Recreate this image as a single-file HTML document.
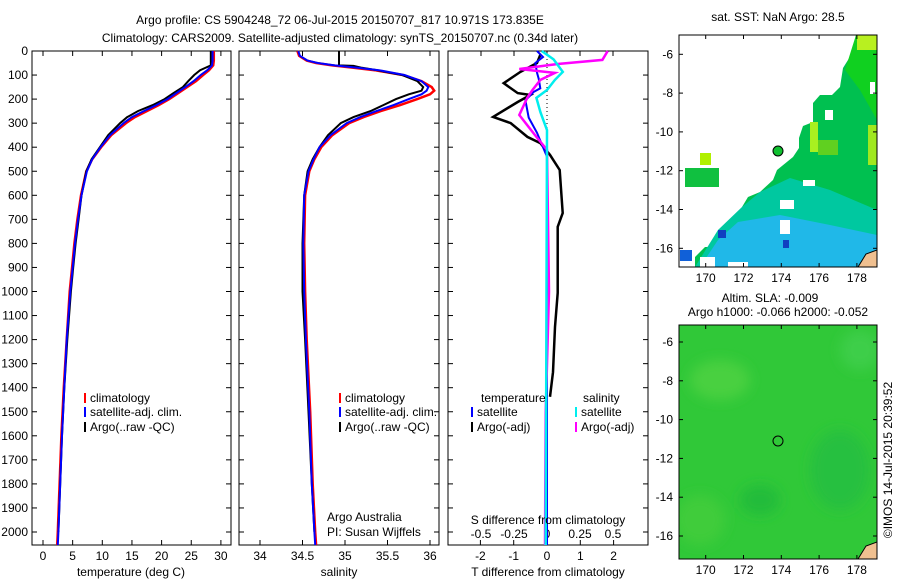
<!DOCTYPE html>
<html><head><meta charset="utf-8"><style>
body{margin:0;background:#fff}
svg text{font-family:"Liberation Sans",sans-serif;font-size:12px;fill:#000}
</style></head><body>
<svg id="c" width="900" height="580" viewBox="0 0 900 580" xmlns="http://www.w3.org/2000/svg">
<defs>
<filter id="bl"><feGaussianBlur stdDeviation="6"/></filter>
<clipPath id="m1c"><rect x="679" y="35" width="198" height="232"/></clipPath>
<clipPath id="m2c"><rect x="679" y="325" width="198" height="234"/></clipPath>
</defs>
<text x="340" y="24" text-anchor="middle" font-size="13">Argo profile: CS 5904248_72 06-Jul-2015 20150707_817 10.971S 173.835E</text>
<text x="340" y="42" text-anchor="middle" font-size="13">Climatology: CARS2009. Satellite-adjusted climatology: synTS_20150707.nc (0.34d later)</text>
<g id="g1"></g>
<g id="g2"></g>
<g id="g3"></g>
<g id="map1">
<text x="778" y="21" text-anchor="middle">sat. SST: NaN Argo: 28.5</text>
<g clip-path="url(#m1c)">
<polygon fill="#00c050" points="856,35 877,35 877,267 695,267 695,257 705,247 718,247 718,230 738,220 742,207 748,197 760,192 773,180 777,170 793,157 799,148 799,138 803,126 813,122 813,103 820,95 832,95 840,87 843,68 853,52"/>
<polygon fill="#10d020" points="856,35 877,35 877,120 860,90 845,70"/>
<polygon fill="#00c8a0" points="742,207 760,192 790,178 830,190 877,210 877,267 695,267 718,230"/>
<polygon fill="#20b8e8" points="738,222 780,215 830,225 877,235 877,267 700,267 718,240"/>
<rect x="857" y="35" width="20" height="15" fill="#b8f020"/>
<rect x="868" y="125" width="9" height="40" fill="#a0e820"/>
<rect x="810" y="122" width="8" height="30" fill="#a8f020"/>
<rect x="818" y="140" width="20" height="15" fill="#60d020"/>
<rect x="685" y="168" width="34" height="19" fill="#10c040"/>
<rect x="700" y="153" width="11" height="12" fill="#b0f000"/>
<rect x="680" y="250" width="12" height="11" fill="#1060d8"/>
<rect x="718" y="230" width="8" height="8" fill="#1040c0"/>
<rect x="783" y="240" width="6" height="8" fill="#1040c0"/>
<rect x="780" y="220" width="10" height="14" fill="#fff"/>
<rect x="780" y="200" width="14" height="9" fill="#fff"/>
<rect x="803" y="180" width="12" height="6" fill="#fff"/>
<rect x="825" y="110" width="8" height="10" fill="#fff"/>
<rect x="870" y="82" width="5" height="12" fill="#fff"/>
<rect x="700" y="257" width="15" height="10" fill="#fff"/>
<rect x="728" y="262" width="20" height="5" fill="#fff"/>
<path d="M858,267 L866,254 L877,250 L877,267 Z" fill="#f0c090" stroke="#000" stroke-width="1"/>
</g>
<rect x="679" y="35" width="198" height="232" fill="none" stroke="#000"/>
<circle cx="778" cy="151" r="5" fill="#10c030" stroke="#000"/>
<g id="m1ax"></g>
</g>
<g id="map2">
<text x="770" y="302" text-anchor="middle">Altim. SLA: -0.009</text>
<text x="778" y="316" text-anchor="middle">Argo h1000: -0.066 h2000: -0.052</text>
<g clip-path="url(#m2c)">
<rect x="679" y="325" width="198" height="234" fill="#30c838"/>
<g filter="url(#bl)">
<ellipse cx="720" cy="380" rx="30" ry="20" fill="#48d040"/>
<ellipse cx="840" cy="470" rx="30" ry="40" fill="#28c040"/>
<ellipse cx="700" cy="520" rx="25" ry="25" fill="#40cc3a"/>
<ellipse cx="860" cy="350" rx="20" ry="20" fill="#3cce48"/>
<ellipse cx="760" cy="500" rx="20" ry="15" fill="#22bc3a"/>
</g>
<path d="M858,559 L866,546 L877,542 L877,559 Z" fill="#f0c090" stroke="#000" stroke-width="1"/>
</g>
<rect x="679" y="325" width="198" height="234" fill="none" stroke="#000"/>
<circle cx="778" cy="441" r="5" fill="none" stroke="#000"/>
<g id="m2ax"></g>
</g>
<text transform="translate(892,460) rotate(-90)" text-anchor="middle">©IMOS 14-Jul-2015 20:39:52</text>
</svg>
<script>
const NS='http://www.w3.org/2000/svg';
const depthTicks=[0,100,200,300,400,500,600,700,800,900,1000,1100,1200,1300,1400,1500,1600,1700,1800,1900,2000];
const tDepth=[0,20,40,60,80,100,125,150,175,200,225,250,275,300,350,400,450,500,600,700,800,900,1000,1200,1400,1600,1800,2000,2054];
const tClim=[28.8,28.8,28.8,28.7,28,27,25.8,24.3,22.8,21.3,19.5,17.5,15.5,14,11.5,9.8,8.3,7.3,6.4,5.8,5.3,4.9,4.5,4.0,3.5,3.1,2.8,2.5,2.4];
const tSat=[28.6,28.6,28.6,28.5,27.7,26.6,25.4,24,22.5,21,19.1,17,15,13.6,11.3,9.7,8.3,7.4,6.5,5.9,5.4,5.0,4.6,4.0,3.6,3.2,2.9,2.6,2.5];
const tArgo=[28.3,28.3,28.3,28.3,26.5,25.5,24.5,23.6,22,20.5,18.5,16,14.2,13,11,9.6,8.2,7.3,6.5,6.0,5.5,5.1,4.7,4.1,3.6,3.2,2.9,2.6];
const tTicks=[0,5,10,15,20,25,30];
const sDepth=[0,20,40,50,60,70,80,100,125,150,165,180,200,225,250,275,300,350,400,450,500,600,800,1000,1200,1500,1800,2000,2054];
const sClim=[34.44,34.46,34.55,34.66,34.85,35.1,35.35,35.68,35.9,36.02,36.05,36.0,35.85,35.65,35.42,35.22,35.05,34.85,34.72,34.64,34.58,34.53,34.52,34.53,34.55,34.59,34.62,34.65,34.66];
const sSat=[34.45,34.47,34.56,34.68,34.88,35.15,35.4,35.7,35.9,35.98,35.96,35.9,35.75,35.57,35.37,35.18,35.02,34.83,34.7,34.63,34.57,34.52,34.51,34.52,34.54,34.58,34.61,34.64,34.65];
const sArgoDepth=[0,20,40,50,60,62,70,80,100,125,150,165,180,200,225,250,275,300,350,400,450,500,600,800,1000,1200,1500,1800,2000];
const sArgo=[34.93,34.93,34.93,34.93,34.93,35.1,35.2,35.38,35.67,35.85,35.92,35.9,35.75,35.6,35.45,35.3,35.1,34.95,34.8,34.7,34.62,34.56,34.52,34.5,34.5,34.53,34.57,34.61,34.64];
const sTicks=[34,34.5,35,35.5,36];
const dtArgoDepth=[16,50,87,134,175,183,212,274,300,357,383,432,495,674,731,1006,1147,1335,1438];
const dtArgo=[-0.2,-0.3,-0.8,-1.3,-0.88,-0.5,-0.88,-1.62,-1.09,-0.59,-0.2,0.09,0.38,0.47,0.32,0.32,0.24,0.18,0.09];
const dtSatDepth=[0,25,50,90,115,155,170,205,277,340,440,2054];
const dtSat=[-0.3,-0.12,-0.35,-0.3,-0.25,-0.2,-0.4,-0.65,-0.55,-0.3,0,0];
const dsSatDepth=[0,35,87,120,162,195,254,329,2054];
const dsSat=[-0.04,0.05,0.12,0.06,0,-0.08,-0.05,0,-0.01];
const dsArgoDepth=[0,37,54,75,91,120,162,195,266,357,411,1000,1500,2054];
const dsArgo=[0.46,0.42,0.08,-0.21,0.06,-0.05,-0.11,-0.15,-0.21,-0.08,0,0.015,-0.01,-0.015];
const dtTicks=[-2,-1,0,1,2];
const dsTicks=[-0.5,-0.25,0,0.25,0.5];
const lonTicks=[170,172,174,176,178];
const latTicks=[-6,-8,-10,-12,-14,-16];

const Y=d=>51+d*0.2405;
function mk(p,tag,a){const e=document.createElementNS(NS,tag);for(const k in a)e.setAttribute(k,a[k]);p.appendChild(e);return e;}
function txt(p,x,y,s,anchor){const t=mk(p,'text',{x:x,y:y,'text-anchor':anchor||'middle'});t.textContent=s;return t;}
function line(p,xs,ds,X,col,w){const pts=xs.map((v,i)=>X(v).toFixed(1)+','+Y(ds[i]).toFixed(1)).join(' ');return mk(p,'polyline',{points:pts,fill:'none',stroke:col,'stroke-width':w||2});}
function frame(p,x0,x1,left){
  const r=mk(p,'rect',{x:x0,y:51,width:x1-x0,height:494,fill:'none',stroke:'#000'});
  
  
  depthTicks.forEach(d=>{mk(p,'line',{x1:x0,x2:x0+5,y1:Y(d),y2:Y(d),stroke:'#000'});mk(p,'line',{x1:x1,x2:x1-5,y1:Y(d),y2:Y(d),stroke:'#000'});
    if(left){const t=txt(p,x0-4,Y(d)+4,String(d),'end');}});
}
function xticks(p,ticks,X,y,labels){ticks.forEach(v=>{mk(p,'line',{x1:X(v),x2:X(v),y1:545,y2:540,stroke:'#000'});mk(p,'line',{x1:X(v),x2:X(v),y1:51,y2:56,stroke:'#000'});
  if(labels){const t=txt(p,X(v),y,String(v));}});}
function legMark(p,x,y,col){mk(p,'line',{x1:x,x2:x,y1:y-10,y2:y,stroke:col,'stroke-width':2});}

// Panel 1
const g1=document.getElementById('g1');const X1=v=>43+v*5.93;
frame(g1,32,231,true);xticks(g1,tTicks,X1,560,true);
let l=line(g1,tClim,tDepth,X1,'#f00',2.5);
l=line(g1,tArgo,tDepth.slice(0,tArgo.length),X1,'#000',2);
l=line(g1,tSat,tDepth,X1,'#00f',2);
let t=txt(g1,131,576,'temperature (deg C)');
[['climatology','#f00',402],['satellite-adj. clim.','#00f',416],['Argo(..raw -QC)','#000',431]].forEach(a=>{legMark(g1,85,a[2]+1,a[1]);const e=txt(g1,90,a[2],a[0],'start');});

// Panel 2
const g2=document.getElementById('g2');const X2=v=>345+(v-35)*85;
frame(g2,239,439,false);xticks(g2,sTicks,X2,560,true);
l=line(g2,sClim,sDepth,X2,'#f00',2.5);
l=line(g2,sArgo,sArgoDepth,X2,'#000',2);
l=line(g2,sSat,sDepth,X2,'#00f',2);
t=txt(g2,339,576,'salinity');
[['climatology','#f00',402],['satellite-adj. clim.','#00f',416],['Argo(..raw -QC)','#000',431]].forEach(a=>{legMark(g2,340,a[2]+1,a[1]);const e=txt(g2,345,a[2],a[0],'start');});
t=txt(g2,327,521,'Argo Australia','start');
t=txt(g2,327,536,'PI: Susan Wijffels','start');

// Panel 3
const g3=document.getElementById('g3');const XT=v=>547+v*33.3;const XS=v=>547+v*132;
frame(g3,448,648,false);
dtTicks.forEach(v=>{mk(g3,'line',{x1:XT(v),x2:XT(v),y1:545,y2:540,stroke:'#000'});const e=txt(g3,XT(v),560,String(v));});
dsTicks.forEach(v=>{mk(g3,'line',{x1:XS(v),x2:XS(v),y1:51,y2:56,stroke:'#000'});const e=txt(g3,XS(v),538,String(v));});
mk(g3,'line',{x1:547,x2:547,y1:51,y2:545,stroke:'#000','stroke-dasharray':'1,3'});
l=line(g3,dtArgo,dtArgoDepth,XT,'#000',2.5);
l=line(g3,dtSat,dtSatDepth,XT,'#00f',2);
l=line(g3,dsArgo,dsArgoDepth,XS,'#f0f',2.5);
l=line(g3,dsSat,dsSatDepth,XS,'#0ee',2.5);
t=txt(g3,548,524,'S difference from climatology');
t=txt(g3,548,576,'T difference from climatology');
t=txt(g3,481,402,'temperature','start');
t=txt(g3,583,402,'salinity','start');
[[472,'satellite','#00f',416],[472,'Argo(-adj)','#000',431],[576,'satellite','#0ee',416],[576,'Argo(-adj)','#f0f',431]].forEach(a=>{legMark(g3,a[0],a[3]+1,a[2]);const e=txt(g3,a[0]+5,a[3],a[1],'start');});

// Map axes
function mapAx(id,top,bot,lat6y){const g=document.getElementById(id);
  const LX=v=>705.7+(v-170)*18.9, LY=v=>lat6y+(-6-v)*19.4;
  lonTicks.forEach(v=>{mk(g,'line',{x1:LX(v),x2:LX(v),y1:bot,y2:bot-4,stroke:'#000'});mk(g,'line',{x1:LX(v),x2:LX(v),y1:top,y2:top+4,stroke:'#000'});const e=txt(g,LX(v),bot+15,String(v));});
  latTicks.forEach(v=>{mk(g,'line',{x1:679,x2:683,y1:LY(v),y2:LY(v),stroke:'#000'});mk(g,'line',{x1:877,x2:873,y1:LY(v),y2:LY(v),stroke:'#000'});const e=txt(g,673,LY(v)+4,String(v),'end');});}
mapAx('m1ax',35,267,54.3);mapAx('m2ax',325,559,342);
</script>
</body></html>
